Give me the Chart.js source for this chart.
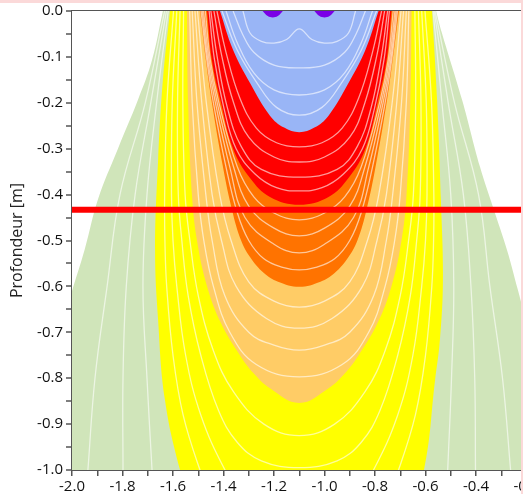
<!DOCTYPE html>
<html>
<head>
<meta charset="utf-8">
<script src="https://cdn.jsdelivr.net/npm/chart.js@4.4.0/dist/chart.umd.min.js"></script>
<style>
  html, body { margin: 0; padding: 0; background: #fbd9d9; overflow: hidden; }
  #frame { position: absolute; left: 0; top: 3px; width: 521px; height: 491px; background: #fff; overflow: hidden; }
  canvas { display: block; }
</style>
</head>
<body>
<div id="frame"><canvas id="depthChart" width="541" height="491"></canvas></div>
<script>
// axis ranges
const xRange = [-2.0, -0.2];
const yRange = [-1.0, 0.0];
const markerDepth = -0.433;

// filled zones, [x, depth]
const greenField = [[-2.1, 0.1], [-0.1, 0.1], [-0.1, -1.2], [-2.1, -1.2]];
const clearLeft = [[-2.06, -0.72], [-2.0, -0.61], [-1.95, -0.52], [-1.897, -0.41], [-1.818, -0.30], [-1.739, -0.194], [-1.683, -0.107], [-1.64, 0], [-1.62, 0.05], [-2.06, 0.05]];
const clearRight = [[-0.578, 0.05], [-0.558, 0], [-0.535, -0.048], [-0.455, -0.194], [-0.384, -0.34], [-0.333, -0.427], [-0.277, -0.521], [-0.234, -0.608], [-0.19, -0.70], [-0.15, -0.78], [-0.15, 0.05]];
const zoneYellow = [[-1.612, 0], [-1.64, -0.15], [-1.659, -0.325], [-1.671, -0.521], [-1.659, -0.673], [-1.632, -0.847], [-1.572, -1.0], [-1.5, -1.12], [-1.1, -1.3], [-0.68, -1.12], [-0.606, -1.0], [-0.562, -0.804], [-0.543, -0.717], [-0.531, -0.586], [-0.539, -0.412], [-0.554, -0.194], [-0.574, 0]];
const zoneLight = [[-1.545, 0], [-1.54, -0.2], [-1.525, -0.4], [-1.505, -0.5], [-1.465, -0.6], [-1.41, -0.68], [-1.335, -0.75], [-1.28, -0.79], [-1.216, -0.822], [-1.1, -0.854], [-0.984, -0.822], [-0.92, -0.79], [-0.865, -0.75], [-0.79, -0.68], [-0.735, -0.6], [-0.695, -0.5], [-0.675, -0.4], [-0.66, -0.2], [-0.655, 0]];
const zoneOrange = [[-1.493, 0], [-1.47, -0.107], [-1.446, -0.2], [-1.402, -0.34], [-1.366, -0.434], [-1.331, -0.499], [-1.295, -0.536], [-1.24, -0.571], [-1.184, -0.59], [-1.1, -0.601], [-1.016, -0.59], [-0.96, -0.571], [-0.905, -0.536], [-0.869, -0.499], [-0.834, -0.434], [-0.798, -0.34], [-0.754, -0.2], [-0.73, -0.107], [-0.705, 0]];
const zoneRed = [[-1.465, 0], [-1.446, -0.107], [-1.41, -0.2], [-1.362, -0.3], [-1.295, -0.364], [-1.216, -0.405], [-1.1, -0.422], [-0.984, -0.405], [-0.905, -0.364], [-0.838, -0.3], [-0.79, -0.2], [-0.754, -0.107], [-0.735, 0]];
const zoneBlue = [[-1.414, 0], [-1.362, -0.085], [-1.295, -0.157], [-1.216, -0.228], [-1.16, -0.254], [-1.1, -0.264], [-1.04, -0.254], [-0.984, -0.228], [-0.905, -0.157], [-0.838, -0.085], [-0.786, 0]];
const zonePurpleA = [[-1.245, 0], [-1.225, -0.011], [-1.205, -0.014], [-1.185, -0.011], [-1.165, 0]];
const zonePurpleB = [[-1.04, 0], [-1.02, -0.011], [-1.0, -0.014], [-0.98, -0.011], [-0.96, 0]];

// white iso lines
const isoBlue1 = [[-1.323, 0], [-1.295, -0.048], [-1.25, -0.066], [-1.2, -0.07], [-1.15, -0.062], [-1.1, -0.039], [-1.05, -0.062], [-1.0, -0.07], [-0.95, -0.066], [-0.905, -0.048], [-0.877, 0]];
const isoBlue2 = [[-1.362, 0], [-1.325, -0.05], [-1.28, -0.09], [-1.2, -0.118], [-1.1, -0.124], [-1.0, -0.118], [-0.92, -0.09], [-0.875, -0.05], [-0.838, 0]];
const isoBlue3 = [[-1.39, 0], [-1.345, -0.07], [-1.28, -0.135], [-1.2, -0.172], [-1.1, -0.183], [-1.0, -0.172], [-0.92, -0.135], [-0.855, -0.07], [-0.81, 0]];
const isoBlue4 = [[-1.406, 0], [-1.346, -0.085], [-1.267, -0.157], [-1.19, -0.21], [-1.1, -0.227], [-1.01, -0.21], [-0.933, -0.157], [-0.854, -0.085], [-0.794, 0]];
const isoRed1 = [[-1.426, 0], [-1.39, -0.09], [-1.335, -0.19], [-1.27, -0.255], [-1.19, -0.287], [-1.1, -0.296], [-1.01, -0.287], [-0.93, -0.255], [-0.865, -0.19], [-0.81, -0.09], [-0.774, 0]];
const isoRed2 = [[-1.438, 0], [-1.408, -0.095], [-1.36, -0.2], [-1.3, -0.275], [-1.2, -0.318], [-1.1, -0.329], [-1.0, -0.318], [-0.9, -0.275], [-0.84, -0.2], [-0.792, -0.095], [-0.762, 0]];
const isoRed3 = [[-1.45, 0], [-1.425, -0.1], [-1.385, -0.21], [-1.33, -0.295], [-1.25, -0.345], [-1.1, -0.362], [-0.95, -0.345], [-0.87, -0.295], [-0.815, -0.21], [-0.775, -0.1], [-0.75, 0]];
const isoRed4 = [[-1.457, 0], [-1.436, -0.105], [-1.398, -0.212], [-1.35, -0.3], [-1.275, -0.355], [-1.19, -0.385], [-1.1, -0.392], [-1.01, -0.385], [-0.925, -0.355], [-0.85, -0.3], [-0.802, -0.212], [-0.764, -0.105], [-0.743, 0]];
const isoOrange1 = [[-1.472, 0], [-1.452, -0.107], [-1.418, -0.2], [-1.345, -0.34], [-1.28, -0.405], [-1.2, -0.44], [-1.1, -0.455], [-1.0, -0.44], [-0.92, -0.405], [-0.855, -0.34], [-0.782, -0.2], [-0.748, -0.107], [-0.728, 0]];
const isoOrange2 = [[-1.479, 0], [-1.457, -0.107], [-1.425, -0.2], [-1.36, -0.34], [-1.3, -0.425], [-1.2, -0.473], [-1.1, -0.49], [-1.0, -0.473], [-0.9, -0.425], [-0.84, -0.34], [-0.775, -0.2], [-0.743, -0.107], [-0.721, 0]];
const isoOrange3 = [[-1.484, 0], [-1.462, -0.107], [-1.432, -0.2], [-1.375, -0.34], [-1.315, -0.45], [-1.2, -0.508], [-1.1, -0.527], [-1.0, -0.508], [-0.885, -0.45], [-0.825, -0.34], [-0.768, -0.2], [-0.738, -0.107], [-0.716, 0]];
const isoOrange4 = [[-1.489, 0], [-1.466, -0.107], [-1.44, -0.2], [-1.39, -0.34], [-1.345, -0.44], [-1.3, -0.5], [-1.24, -0.54], [-1.17, -0.558], [-1.1, -0.564], [-1.03, -0.558], [-0.96, -0.54], [-0.9, -0.5], [-0.855, -0.44], [-0.81, -0.34], [-0.76, -0.2], [-0.734, -0.107], [-0.711, 0]];
const isoLight1 = [[-1.503, 0], [-1.468, -0.2], [-1.415, -0.4], [-1.37, -0.5], [-1.3, -0.59], [-1.2, -0.632], [-1.1, -0.645], [-1.0, -0.632], [-0.9, -0.59], [-0.83, -0.5], [-0.785, -0.4], [-0.732, -0.2], [-0.697, 0]];
const isoLight2 = [[-1.513, 0], [-1.486, -0.2], [-1.445, -0.4], [-1.408, -0.5], [-1.35, -0.6], [-1.23, -0.67], [-1.1, -0.691], [-0.97, -0.67], [-0.85, -0.6], [-0.792, -0.5], [-0.755, -0.4], [-0.714, -0.2], [-0.687, 0]];
const isoLight3 = [[-1.524, 0], [-1.505, -0.2], [-1.47, -0.4], [-1.445, -0.5], [-1.395, -0.62], [-1.3, -0.7], [-1.2, -0.728], [-1.1, -0.739], [-1.0, -0.728], [-0.9, -0.7], [-0.805, -0.62], [-0.755, -0.5], [-0.73, -0.4], [-0.695, -0.2], [-0.676, 0]];
const isoLight4 = [[-1.534, 0], [-1.524, -0.2], [-1.5, -0.4], [-1.478, -0.5], [-1.44, -0.6], [-1.375, -0.7], [-1.27, -0.77], [-1.1, -0.797], [-0.93, -0.77], [-0.825, -0.7], [-0.76, -0.6], [-0.722, -0.5], [-0.7, -0.4], [-0.676, -0.2], [-0.666, 0]];
const isoYellow1 = [[-1.558, 0], [-1.561, -0.2], [-1.552, -0.4], [-1.533, -0.5], [-1.5, -0.62], [-1.44, -0.74], [-1.36, -0.83], [-1.24, -0.9], [-1.1, -0.925], [-0.96, -0.9], [-0.84, -0.83], [-0.76, -0.74], [-0.7, -0.62], [-0.667, -0.5], [-0.648, -0.4], [-0.639, -0.2], [-0.642, 0]];
const isoYellow2 = [[-1.572, 0], [-1.582, -0.2], [-1.579, -0.4], [-1.565, -0.5], [-1.54, -0.62], [-1.49, -0.75], [-1.42, -0.87], [-1.345, -0.94], [-1.25, -0.98], [-1.1, -0.995], [-0.95, -0.98], [-0.855, -0.94], [-0.78, -0.87], [-0.71, -0.75], [-0.66, -0.62], [-0.635, -0.5], [-0.621, -0.4], [-0.618, -0.2], [-0.628, 0]];
const isoYellow3 = [[-1.585, 0], [-1.603, -0.2], [-1.606, -0.4], [-1.6, -0.5], [-1.585, -0.6], [-1.55, -0.75], [-1.49, -0.88], [-1.394, -1.0], [-1.3, -1.08], [-1.1, -1.12], [-0.9, -1.08], [-0.806, -1.0], [-0.71, -0.88], [-0.65, -0.75], [-0.615, -0.6], [-0.6, -0.5], [-0.594, -0.4], [-0.597, -0.2], [-0.615, 0]];
const isoYellow4 = [[-1.598, 0], [-1.624, -0.2], [-1.633, -0.4], [-1.632, -0.5], [-1.625, -0.6], [-1.6, -0.75], [-1.56, -0.88], [-1.493, -1.0], [-1.44, -1.07], [-1.1, -1.2], [-0.76, -1.07], [-0.707, -1.0], [-0.64, -0.88], [-0.6, -0.75], [-0.575, -0.6], [-0.568, -0.5], [-0.567, -0.4], [-0.576, -0.2], [-0.602, 0]];
const isoGreenL1 = [[-1.633, 0], [-1.71, -0.2], [-1.81, -0.4], [-1.861, -0.6], [-1.909, -0.8], [-1.937, -1.0]];
const isoGreenL2 = [[-1.626, 0], [-1.688, -0.2], [-1.75, -0.4], [-1.785, -0.6], [-1.798, -0.8], [-1.798, -1.0]];
const isoGreenL3 = [[-1.619, 0], [-1.665, -0.2], [-1.703, -0.4], [-1.719, -0.6], [-1.703, -0.8], [-1.683, -1.0]];
const isoGreenR1 = [[-0.562, 0], [-0.485, -0.2], [-0.39, -0.4], [-0.345, -0.6], [-0.295, -0.8], [-0.263, -1.0]];
const isoGreenR2 = [[-0.566, 0], [-0.51, -0.2], [-0.45, -0.4], [-0.42, -0.6], [-0.405, -0.8], [-0.402, -1.0]];
const isoGreenR3 = [[-0.57, 0], [-0.535, -0.2], [-0.5, -0.4], [-0.488, -0.6], [-0.497, -0.8], [-0.512, -1.0]];

const isoLines = [
  isoBlue1, isoBlue2, isoBlue3, isoBlue4,
  isoRed1, isoRed2, isoRed3, isoRed4,
  isoOrange1, isoOrange2, isoOrange3, isoOrange4,
  isoLight1, isoLight2, isoLight3, isoLight4,
  isoYellow1, isoYellow2, isoYellow3, isoYellow4,
  isoGreenL1, isoGreenL2, isoGreenL3, isoGreenR1, isoGreenR2, isoGreenR3
];

const fontFamily = '"Open Sans", "Liberation Sans", sans-serif';

function toPoints(arr) {
  return arr.map(([x, y]) => ({ x: x, y: y }));
}

function zone(arr, color, order, tension) {
  return {
    data: toPoints(arr),
    backgroundColor: color,
    borderWidth: 0,
    fill: 'shape',
    tension: tension === undefined ? 0.4 : tension,
    order: order
  };
}

const datasets = [
  zone(greenField, 'rgb(208,229,186)', 100, 0),
  zone(clearLeft, '#ffffff', 95),
  zone(clearRight, '#ffffff', 95),
  zone(zoneYellow, '#ffff00', 90),
  zone(zoneLight, '#ffcc66', 80),
  zone(zoneOrange, '#ff7300', 70),
  zone(zoneRed, '#ff0000', 60),
  zone(zoneBlue, 'rgb(153,181,246)', 50),
  zone(zonePurpleA, '#7a00e6', 40),
  zone(zonePurpleB, '#7a00e6', 40)
];

isoLines.forEach(line => {
  datasets.push({
    data: toPoints(line),
    borderColor: 'rgba(255,255,255,0.6)',
    borderWidth: 1.3,
    fill: false,
    tension: 0.4,
    order: 30
  });
});

datasets.push({
  data: [{ x: xRange[0], y: markerDepth }, { x: xRange[1], y: markerDepth }],
  borderColor: '#ff0000',
  borderWidth: 6,
  fill: false,
  tension: 0,
  order: 10
});

const ctx = document.getElementById('depthChart').getContext('2d');
new Chart(ctx, {
  type: 'line',
  data: { datasets: datasets },
  options: {
    responsive: false,
    animation: false,
    events: [],
    layout: { padding: { top: 8, right: 14.5, bottom: 0, left: 0 } },
    elements: { point: { radius: 0 } },
    plugins: {
      legend: { display: false },
      tooltip: { enabled: false }
    },
    scales: {
      x: {
        type: 'linear',
        min: xRange[0],
        max: xRange[1],
        z: 1,
        ticks: {
          stepSize: 0.1,
          autoSkip: false,
          maxRotation: 0,
          padding: 2,
          color: '#111',
          font: { family: fontFamily, size: 15 },
          callback: function(value) {
            return Math.round(value * 10) % 2 === 0 ? value.toFixed(1) : '';
          }
        },
        grid: { drawOnChartArea: false, tickLength: 6, color: '#555', lineWidth: 1.5 },
        border: { color: '#555', width: 2 },
        afterFit: function(scale) {
          scale.height = 24;
          scale.paddingLeft = 0;
          scale.paddingRight = 0;
        }
      },
      y: {
        min: yRange[0],
        max: yRange[1],
        z: 1,
        ticks: {
          stepSize: 0.05,
          autoSkip: false,
          padding: 3,
          color: '#111',
          font: { family: fontFamily, size: 15 },
          callback: function(value) {
            if (Math.round(value * 100) % 10 !== 0) return '';
            return Math.abs(value) < 1e-9 ? '0.0' : value.toFixed(1);
          }
        },
        grid: {
          drawOnChartArea: true,
          tickLength: 6,
          lineWidth: 2,
          tickWidth: 1.5,
          tickColor: '#555',
          color: function(c) {
            return c.tick && Math.abs(c.tick.value) < 1e-9 ? '#555' : 'rgba(0,0,0,0)';
          }
        },
        border: { color: '#555', width: 2 },
        title: {
          display: true,
          text: 'Profondeur [m]',
          color: '#222',
          font: { family: fontFamily, size: 16 },
          padding: { top: 8, bottom: 0 }
        },
        afterFit: function(scale) {
          scale.width = 72;
          scale.paddingTop = 0;
          scale.paddingBottom = 0;
        }
      }
    }
  }
});
</script>
</body>
</html>
